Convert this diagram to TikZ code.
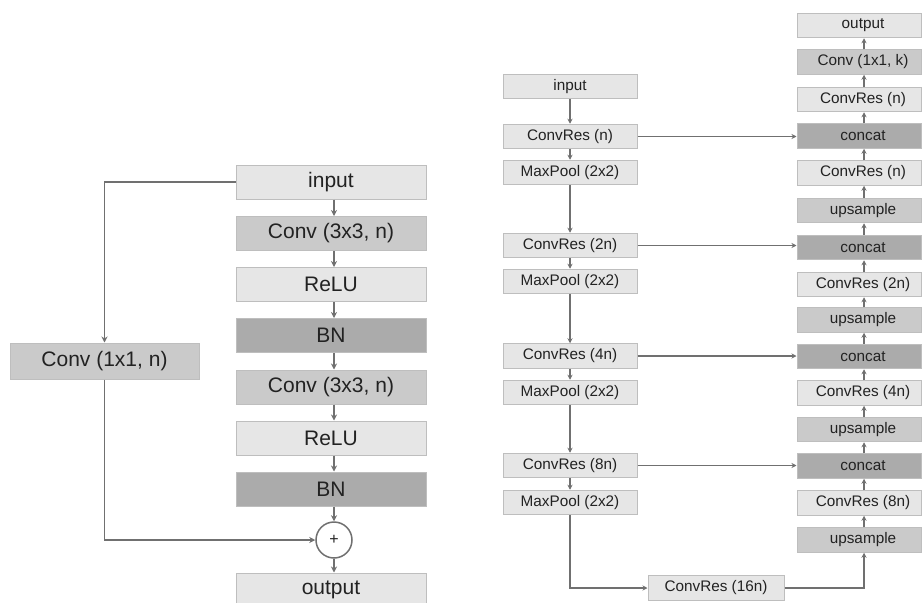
\documentclass[tikz,border=0pt]{standalone}
\usepackage{fontspec}
\setmainfont{Liberation Sans}
\usetikzlibrary{arrows.meta}
\definecolor{lbox}{HTML}{E6E6E6}
\definecolor{mbox}{HTML}{CACACA}
\definecolor{dbox}{HTML}{ABABAB}
\definecolor{bord}{HTML}{BEBEBE}
\definecolor{ln}{HTML}{707070}
\definecolor{tx}{HTML}{222222}
\tikzset{
  basebox/.style={rectangle, draw=bord, line width=1pt, inner sep=0pt, text=tx},
  lbig/.style={basebox, minimum width=190pt, minimum height=34pt, font=\fontsize{21}{25}\selectfont},
  lsmall/.style={basebox, minimum width=134pt, minimum height=24.5pt, font=\fontsize{15.3}{18}\selectfont},
  rsmall/.style={basebox, minimum width=124pt, minimum height=24.5pt, font=\fontsize{15.3}{18}\selectfont},
  light/.style={fill=lbox}, mid/.style={fill=mbox}, dark/.style={fill=dbox},
  arr/.style={draw=ln, line width=1.2pt, -{Stealth[length=5pt,width=5pt]}},
  bigarr/.style={draw=ln, line width=1.5pt, -{Stealth[length=6pt,width=6pt]}},
  plain/.style={draw=ln, line width=1.2pt},
}
\begin{document}
\begin{tikzpicture}[x=1pt,y=-1pt]
\clip (0,0) rectangle (922,603);
\useasboundingbox (0,0) rectangle (922,603);
% ---------- left: residual block ----------
\node[lbig,light] (lin) at (331,182) {input};
\node[lbig,mid]   (lc1) at (331,233.5) {Conv (3x3, n)};
\node[lbig,light] (lr1) at (331,284.5) {ReLU};
\node[lbig,dark]  (lb1) at (331,335.5) {BN};
\node[lbig,mid]   (lc2) at (331,387) {Conv (3x3, n)};
\node[lbig,light] (lr2) at (331,438) {ReLU};
\node[lbig,dark]  (lb2) at (331,489) {BN};
\node[lbig,light] (lout) at (331,590) {output};
\node[lbig,mid, minimum width=189pt, minimum height=36pt] (lc11) at (104.5,361) {Conv (1x1, n)};
\node[circle, draw=ln, line width=1.5pt, fill=white, minimum size=36pt, inner sep=0pt, text=tx, font=\fontsize{16}{18}\selectfont] (plus) at (334,540) {+};
\foreach \a/\b in {lin/lc1, lc1/lr1, lr1/lb1, lb1/lc2, lc2/lr2, lr2/lb2, lb2/plus}
  \draw[bigarr] ([xshift=3pt]\a.south) -- ([xshift=3pt]\a.south |- \b.north);
\draw[bigarr] (plus.south) -- (plus.south |- lout.north);
\draw[bigarr] (lin.west) -| (lc11.north);
\draw[bigarr] (lc11.south) |- (plus.west);
% ---------- right: U-Net ----------
\node[lsmall,light] (in)   at (570,86.5) {input};
\node[lsmall,light] (cr1)  at (570,136.5) {ConvRes (n)};
\node[lsmall,light] (mp1)  at (570,172.5) {MaxPool (2x2)};
\node[lsmall,light] (cr2)  at (570,245.5) {ConvRes (2n)};
\node[lsmall,light] (mp2)  at (570,281.5) {MaxPool (2x2)};
\node[lsmall,light] (cr4)  at (570,356) {ConvRes (4n)};
\node[lsmall,light] (mp3)  at (570,392.5) {MaxPool (2x2)};
\node[lsmall,light] (cr8)  at (570,465.5) {ConvRes (8n)};
\node[lsmall,light] (mp4)  at (570,502.5) {MaxPool (2x2)};
\node[lsmall,light, minimum width=136pt] (cr16) at (716,588) {ConvRes (16n)};
\node[rsmall,light] (out)  at (859,25.5) {\hspace*{8pt}output};
\node[rsmall,mid]   (ck)   at (859,62) {\hspace*{8pt}Conv (1x1, k)};
\node[rsmall,light] (rn1)  at (859,99.5) {\hspace*{8pt}ConvRes (n)};
\node[rsmall,dark]  (cc1)  at (859,136) {\hspace*{8pt}concat};
\node[rsmall,light] (rn2)  at (859,173) {\hspace*{8pt}ConvRes (n)};
\node[rsmall,mid]   (up1)  at (859,210.5) {\hspace*{8pt}upsample};
\node[rsmall,dark]  (cc2)  at (859,247.5) {\hspace*{8pt}concat};
\node[rsmall,light] (r2n)  at (859,284.5) {\hspace*{8pt}ConvRes (2n)};
\node[rsmall,mid]   (up2)  at (859,320) {\hspace*{8pt}upsample};
\node[rsmall,dark]  (cc3)  at (859,356.5) {\hspace*{8pt}concat};
\node[rsmall,light] (r4n)  at (859,393) {\hspace*{8pt}ConvRes (4n)};
\node[rsmall,mid]   (up3)  at (859,429.5) {\hspace*{8pt}upsample};
\node[rsmall,dark]  (cc4)  at (859,466) {\hspace*{8pt}concat};
\node[rsmall,light] (r8n)  at (859,503) {\hspace*{8pt}ConvRes (8n)};
\node[rsmall,mid]   (up4)  at (859,540) {\hspace*{8pt}upsample};
% down path
\foreach \a/\b in {in/cr1, cr1/mp1, mp1/cr2, cr2/mp2, mp2/cr4, cr4/mp3, mp3/cr8, cr8/mp4}
  \draw[arr] (\a.south) -- (\b.north);
\draw[arr] (mp4.south) |- (cr16.west);
\draw[arr] (cr16.east) -| ([xshift=5pt]up4.south);
% up path
\foreach \a/\b in {up4/r8n, r8n/cc4, cc4/up3, up3/r4n, r4n/cc3, cc3/up2, up2/r2n, r2n/cc2, cc2/up1, up1/rn2, rn2/cc1, cc1/rn1, rn1/ck, ck/out}
  \draw[arr] ([xshift=5pt]\a.north) -- ([xshift=5pt]\a.north |- \b.south);
% skip connections
\foreach \a/\b in {cr1/cc1, cr2/cc2, cr4/cc3, cr8/cc4}
  \draw[arr] (\a.east) -- (\a.east -| \b.west);
\end{tikzpicture}
\end{document}
